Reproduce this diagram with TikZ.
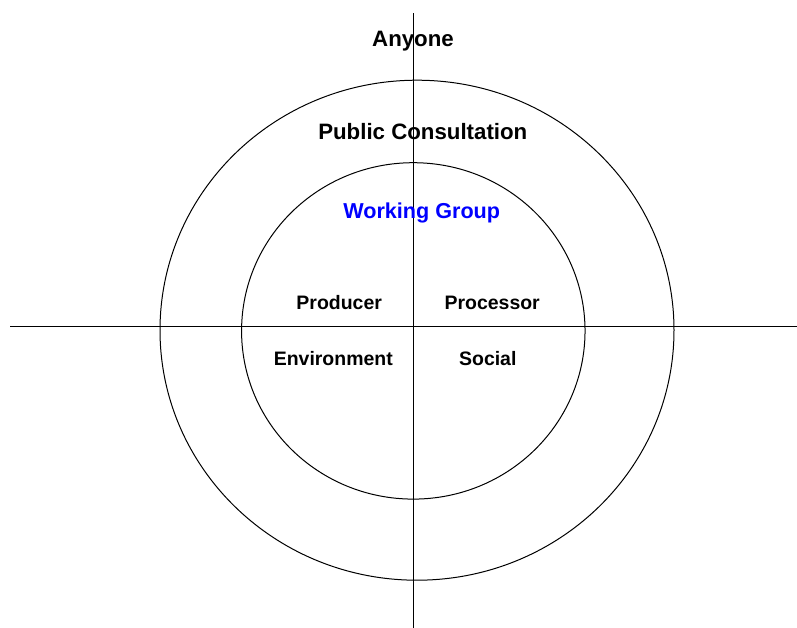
\documentclass[tikz,border=0pt]{standalone}
\usepackage{fontspec}
\setmainfont{Liberation Sans}
\definecolor{wgblue}{RGB}{0,0,255}
\begin{document}
\begin{tikzpicture}[x=0.75pt,y=-0.75pt,
  big/.style={font=\fontsize{16.7}{18}\selectfont\bfseries,anchor=base,inner sep=0pt},
  small/.style={font=\fontsize{14.6}{17}\selectfont\bfseries,anchor=base,inner sep=0pt},
  ln/.style={line width=0.75pt}]
\useasboundingbox (0,0) rectangle (797,628);
% axes
\coordinate (vt) at (413.3,13);
\coordinate (vb) at (413.3,628);
\coordinate (hl) at (10,326.7);
\coordinate (hr) at (797,326.7);
\draw[ln] (vt) -- (vb);
\draw[ln] (hl) -- (hr);
% rings
\coordinate (oc) at (417,330.2);
\coordinate (ic) at (413.3,330.9);
\draw[ln] (oc) ellipse [x radius=192.75pt, y radius=187.5pt];
\draw[ln] (ic) ellipse [x radius=128.8pt, y radius=126.15pt];
% labels
\node[big] (anyone) at (413,46) {Anyone};
\node[big] (public) at (422.8,139) {Public Consultation};
\node[small,font=\fontsize{16.2}{18}\selectfont\bfseries,text=wgblue] (wg) at (421.7,218.3) {Working Group};
\node[small] (prod) at (339.2,309) {Producer};
\node[small] (proc) at (492.2,309) {Processor};
\node[small] (env) at (333.3,365.7) {Environment};
\node[small] (soc) at (487.8,365.7) {Social};
\end{tikzpicture}
\end{document}
